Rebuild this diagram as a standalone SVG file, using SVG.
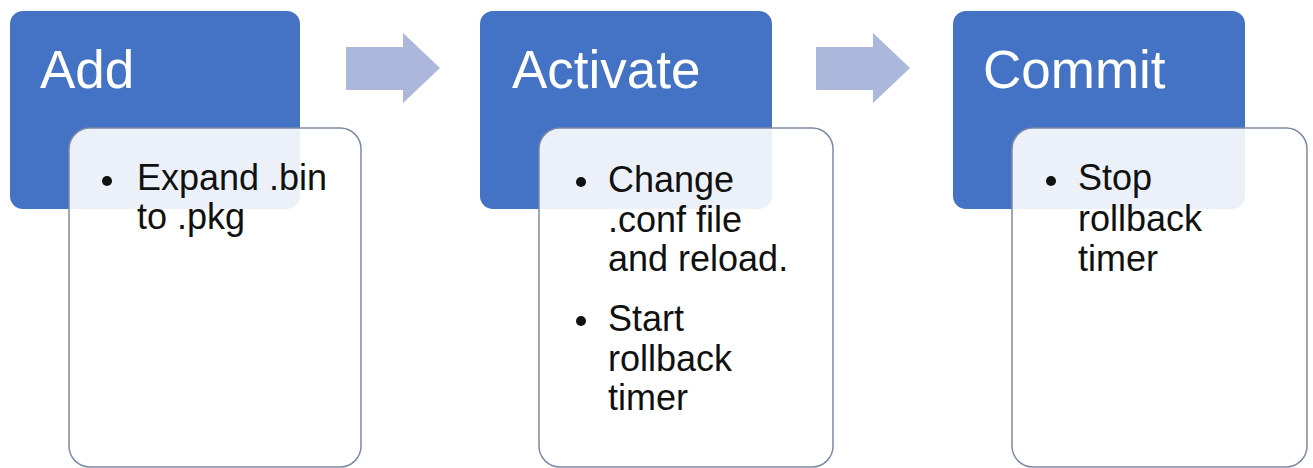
<svg xmlns="http://www.w3.org/2000/svg" width="1313" height="468" viewBox="0 0 1313 468">
<style>
.hdr{fill:#4472c4}
.card{fill:#ffffff;fill-opacity:0.9;stroke:#7d8aa3;stroke-width:1.5}
.title{font-family:"Liberation Sans",Arial,sans-serif;font-size:53px;fill:#ffffff}
.body{font-family:"Liberation Sans",Arial,sans-serif;font-size:36px;fill:#111111}
.dot{fill:#111111}
.arrow{fill:#abb7db}
</style>
<rect width="1313" height="468" fill="#ffffff"/>
<g id="connectors">
<polygon class="arrow" points="346,47 403,47 403,33 440,68 403,103 403,90 346,90"/>
<polygon class="arrow" points="816,47 873,47 873,33 910,68 873,103 873,90 816,90"/>
</g>
<g id="node-add">
<rect class="hdr" x="10" y="11" width="290" height="198" rx="13"/>
<text class="title" x="40" y="88">Add</text>
<rect class="card" x="69" y="128" width="292" height="339" rx="21"/>
<circle class="dot" cx="107" cy="181" r="5"/>
<text class="body" x="137" y="190">Expand .bin</text>
<text class="body" x="137" y="229">to .pkg</text>
</g>
<g id="node-activate">
<rect class="hdr" x="480" y="11" width="292" height="198" rx="13"/>
<text class="title" x="512" y="88">Activate</text>
<rect class="card" x="539" y="128" width="294" height="339" rx="21"/>
<circle class="dot" cx="581" cy="182" r="5"/>
<text class="body" x="608" y="192">Change</text>
<text class="body" x="608" y="232">.conf file</text>
<text class="body" x="608" y="271">and reload.</text>
<circle class="dot" cx="581" cy="321" r="5"/>
<text class="body" x="608" y="331">Start</text>
<text class="body" x="608" y="371">rollback</text>
<text class="body" x="608" y="410">timer</text>
</g>
<g id="node-commit">
<rect class="hdr" x="953" y="11" width="292" height="198" rx="13"/>
<text class="title" x="983" y="88">Commit</text>
<rect class="card" x="1012" y="128" width="295" height="339" rx="21"/>
<circle class="dot" cx="1051" cy="181" r="5"/>
<text class="body" x="1078" y="190">Stop</text>
<text class="body" x="1078" y="231">rollback</text>
<text class="body" x="1078" y="271">timer</text>
</g>
</svg>
